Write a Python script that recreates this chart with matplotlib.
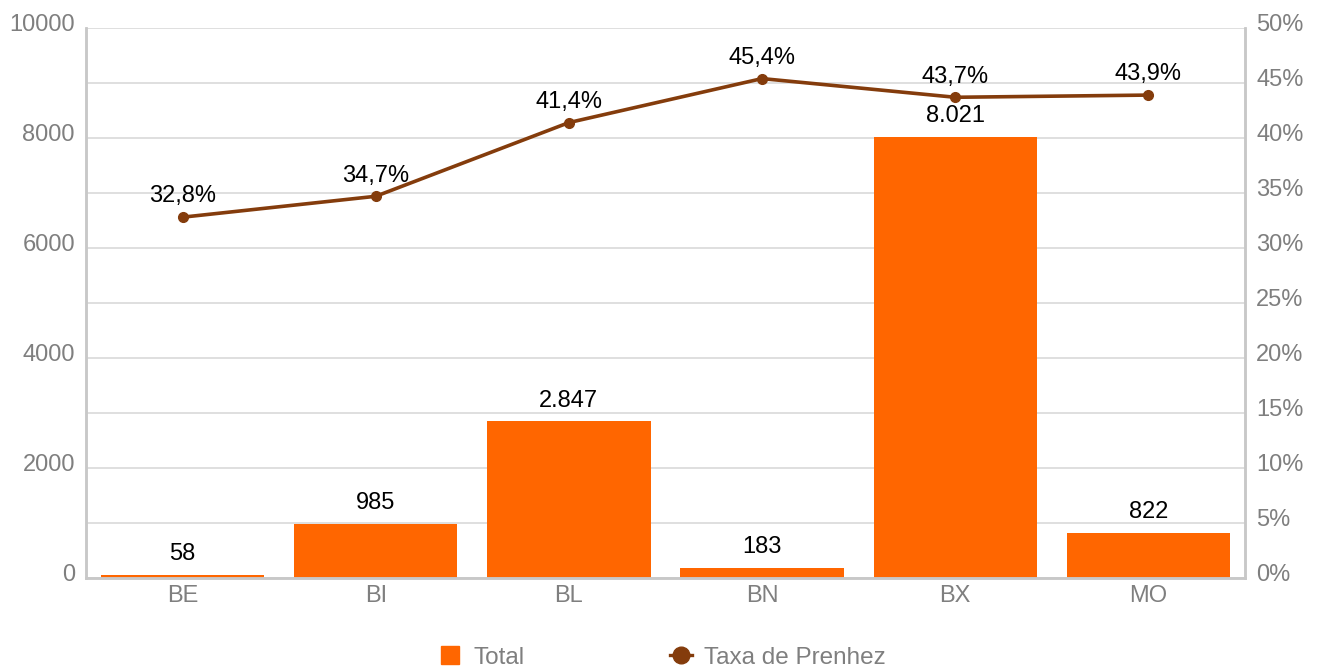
import matplotlib
matplotlib.use("Agg")
import matplotlib.pyplot as plt
import matplotlib.transforms as mtransforms
from matplotlib.lines import Line2D
from matplotlib.ticker import FuncFormatter

plt.rcParams['font.family'] = ['Liberation Sans', 'DejaVu Sans']

categories = ["BE", "BI", "BL", "BN", "BX", "MO"]
total = [58, 985, 2847, 183, 8021, 822]
taxa = [32.8, 34.7, 41.4, 45.4, 43.7, 43.9]
total_labels = ["58", "985", "2.847", "183", "8.021", "822"]
taxa_labels = ["32,8%", "34,7%", "41,4%", "45,4%", "43,7%", "43,9%"]

bar_color = "#FF6600"
line_color = "#843C0C"
grey = "#7F7F7F"
grid_c = "#D9D9D9"
spine_c = "#C8C8C8"
fs = 17

fig = plt.figure(figsize=(13.17, 6.71), dpi=100)
ax1 = fig.add_axes([0.0653, 0.1386, 0.8800, 0.8197])
ax2 = ax1.twinx()

x = list(range(len(categories)))
ax1.bar(x, total, width=0.845, color=bar_color, zorder=2)
ax1.set_xlim(-0.5, len(categories) - 0.5)
ax1.set_ylim(0, 10000)
ax1.set_yticks(range(0, 10001, 1000))
ax1.yaxis.set_major_formatter(FuncFormatter(lambda v, p: f"{int(v)}" if int(v) % 2000 == 0 else ""))
ax1.grid(axis='y', color=grid_c, linewidth=1.2, zorder=0)
ax1.set_axisbelow(True)
ax1.set_xticks(x)
ax1.set_xticklabels(categories)
ax1.tick_params(axis='both', length=0, labelsize=fs, labelcolor=grey)
ax1.tick_params(axis='y', pad=8)
ax1.tick_params(axis='x', pad=5)

for xi, v, lab in zip(x, total, total_labels):
    ax1.annotate(lab, (xi, v), xytext=(0, 7), textcoords='offset points',
                 ha='center', va='bottom', fontsize=fs, color='black')

ax2.plot(x, taxa, color=line_color, linewidth=2.6, marker='o', markersize=7, zorder=3)
ax2.set_ylim(0, 50)
ax2.set_yticks(range(0, 51, 5))
ax2.yaxis.set_major_formatter(FuncFormatter(lambda v, p: f"{int(v)}%"))
ax2.tick_params(axis='y', length=0, labelsize=fs, labelcolor=grey, pad=8)
for xi, v, lab in zip(x, taxa, taxa_labels):
    ax2.annotate(lab, (xi, v), xytext=(0, 7), textcoords='offset points',
                 ha='center', va='bottom', fontsize=fs, color='black')

# y tick labels sit slightly above their gridlines
shift = mtransforms.ScaledTranslation(0, 5 / 100, fig.dpi_scale_trans)
for lab in ax1.get_yticklabels() + ax2.get_yticklabels():
    lab.set_transform(lab.get_transform() + shift)

for ax in (ax1, ax2):
    ax.spines['top'].set_visible(False)
    for s in ('left', 'right', 'bottom'):
        ax.spines[s].set_color(spine_c)
        ax.spines[s].set_linewidth(1.8)

handles = [
    Line2D([0], [0], marker='s', linestyle='none', markersize=13, color=bar_color),
    Line2D([0], [0], marker='o', linestyle='-', color=line_color, linewidth=2.4, markersize=12),
]
fig.legend(handles, ["Total", "Taxa de Prenhez"], loc='center', bbox_to_anchor=(0.503, 0.02),
           ncol=2, frameon=False, fontsize=17.5, labelcolor=grey, columnspacing=6.0,
           handlelength=0.9, handletextpad=0.5)

fig.savefig("out.png", dpi=100)
